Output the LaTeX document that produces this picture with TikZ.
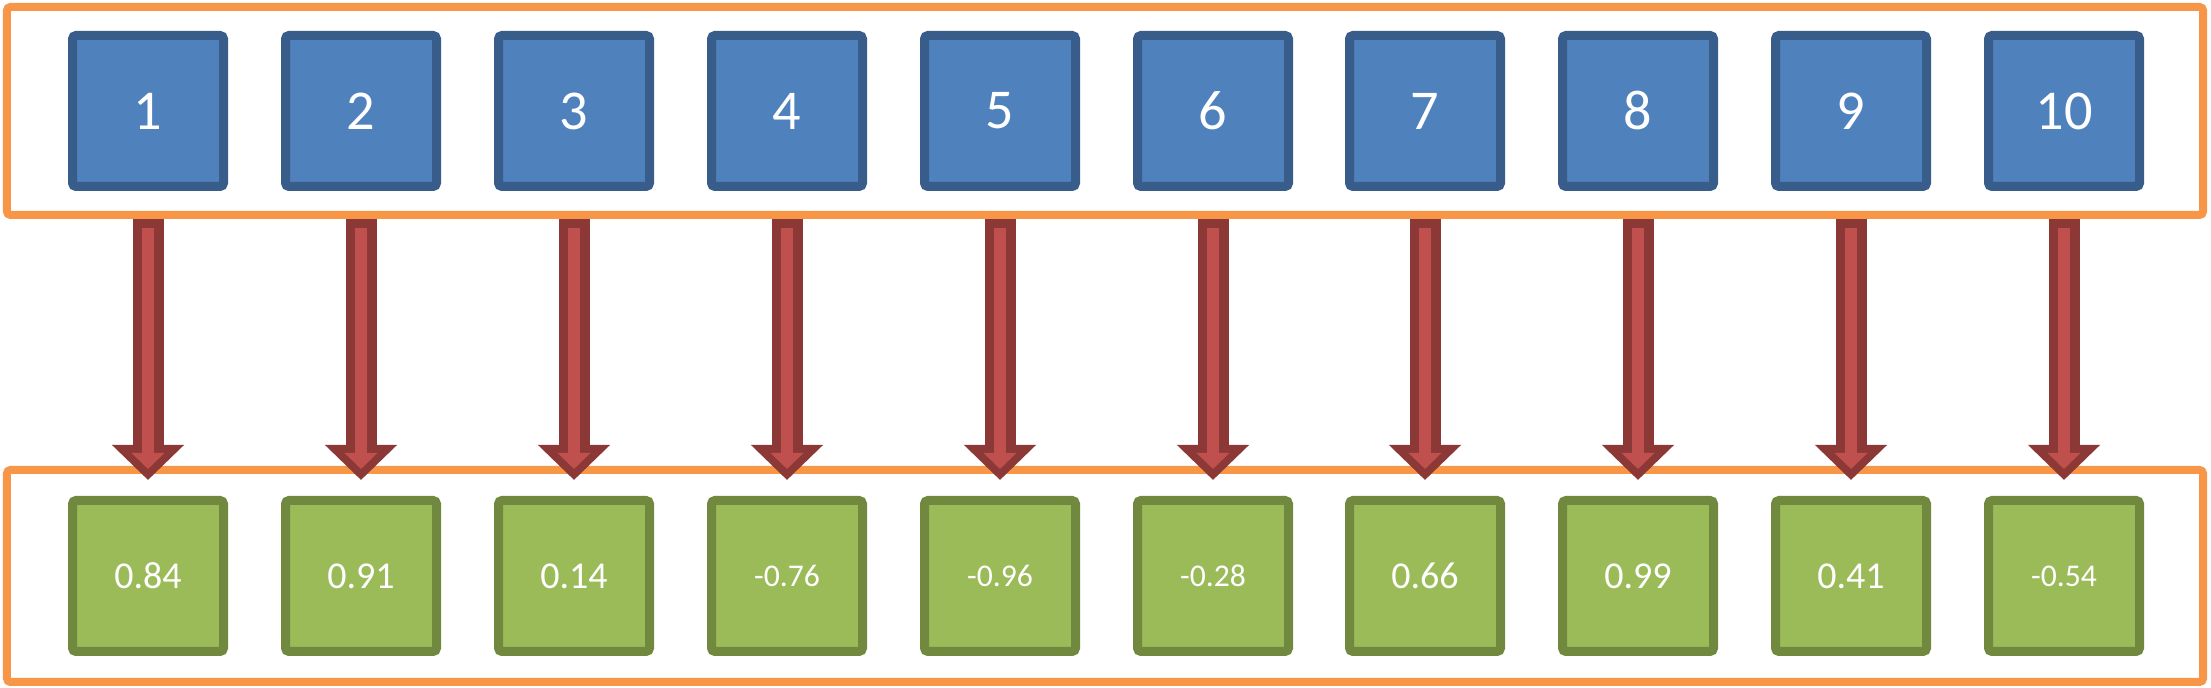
\documentclass[tikz,border=0pt]{standalone}
\usepackage{fontspec}
\setmainfont{Carlito}
\usetikzlibrary{arrows.meta}
\definecolor{boxblue}{HTML}{4F81BD}
\definecolor{boxblueline}{HTML}{385D8A}
\definecolor{boxgreen}{HTML}{9BBB59}
\definecolor{boxgreenline}{HTML}{71893F}
\definecolor{frameorange}{HTML}{F79646}
\definecolor{arrowred}{HTML}{C0504D}
\definecolor{arrowdark}{HTML}{8C3836}
\tikzset{
	numbox/.style={draw=boxblueline, fill=boxblue, line width=0.09cm, rounded corners=1pt, minimum size=1.51cm, inner sep=0pt, text=white, font=\fontsize{16}{18}\selectfont},
	valbox/.style={draw=boxgreenline, fill=boxgreen, line width=0.09cm, rounded corners=1pt, minimum size=1.51cm, inner sep=0pt, text=white, font=\fontsize{10.8}{12}\selectfont},
	negval/.style={valbox, font=\fontsize{9}{10}\selectfont},
	rowframe/.style={draw=frameorange, line width=0.08cm, rounded corners=1pt, minimum width=21.96cm, inner sep=0pt},
	maparrow/.style={draw=arrowdark, line width=0.31cm, -{Triangle[width=0.70cm,length=0.35cm]}, shorten >=0.16cm},
	mapcore/.style={draw=arrowred, line width=0.12cm, -{Triangle[width=0.32cm,length=0.16cm]}, shorten <=0.09cm, shorten >=0.27cm}
}
\begin{document}
\begin{tikzpicture}
	\useasboundingbox (0,0) rectangle (22.11,6.88);
	\node[rowframe, minimum height=2.08cm] (inrow) at (11.05,5.77) {};
	\node[rowframe, minimum height=2.12cm] (outrow) at (11.05,1.12) {};
	\node[numbox] (n1) at (1.48,5.77) {1};
	\node[numbox] (n2) at (3.61,5.77) {2};
	\node[numbox] (n3) at (5.74,5.77) {3};
	\node[numbox] (n4) at (7.87,5.77) {4};
	\node[numbox] (n5) at (10.00,5.77) {5};
	\node[numbox] (n6) at (12.13,5.77) {6};
	\node[numbox] (n7) at (14.25,5.77) {7};
	\node[numbox] (n8) at (16.38,5.77) {8};
	\node[numbox] (n9) at (18.51,5.77) {9};
	\node[numbox] (n10) at (20.64,5.77) {10};
	\node[valbox] (v1) at (1.48,1.12) {0.84};
	\node[valbox] (v2) at (3.61,1.12) {0.91};
	\node[valbox] (v3) at (5.74,1.12) {0.14};
	\node[negval] (v4) at (7.87,1.12) {-0.76};
	\node[negval] (v5) at (10.00,1.12) {-0.96};
	\node[negval] (v6) at (12.13,1.12) {-0.28};
	\node[valbox] (v7) at (14.25,1.12) {0.66};
	\node[valbox] (v8) at (16.38,1.12) {0.99};
	\node[valbox] (v9) at (18.51,1.12) {0.41};
	\node[negval] (v10) at (20.64,1.12) {-0.54};
	\draw[maparrow] (n1 |- inrow.south) -- (v1.north);
	\draw[maparrow] (n2 |- inrow.south) -- (v2.north);
	\draw[maparrow] (n3 |- inrow.south) -- (v3.north);
	\draw[maparrow] (n4 |- inrow.south) -- (v4.north);
	\draw[maparrow] (n5 |- inrow.south) -- (v5.north);
	\draw[maparrow] (n6 |- inrow.south) -- (v6.north);
	\draw[maparrow] (n7 |- inrow.south) -- (v7.north);
	\draw[maparrow] (n8 |- inrow.south) -- (v8.north);
	\draw[maparrow] (n9 |- inrow.south) -- (v9.north);
	\draw[maparrow] (n10 |- inrow.south) -- (v10.north);
	\draw[mapcore] (n1 |- inrow.south) -- (v1.north);
	\draw[mapcore] (n2 |- inrow.south) -- (v2.north);
	\draw[mapcore] (n3 |- inrow.south) -- (v3.north);
	\draw[mapcore] (n4 |- inrow.south) -- (v4.north);
	\draw[mapcore] (n5 |- inrow.south) -- (v5.north);
	\draw[mapcore] (n6 |- inrow.south) -- (v6.north);
	\draw[mapcore] (n7 |- inrow.south) -- (v7.north);
	\draw[mapcore] (n8 |- inrow.south) -- (v8.north);
	\draw[mapcore] (n9 |- inrow.south) -- (v9.north);
	\draw[mapcore] (n10 |- inrow.south) -- (v10.north);
\end{tikzpicture}
\end{document}
